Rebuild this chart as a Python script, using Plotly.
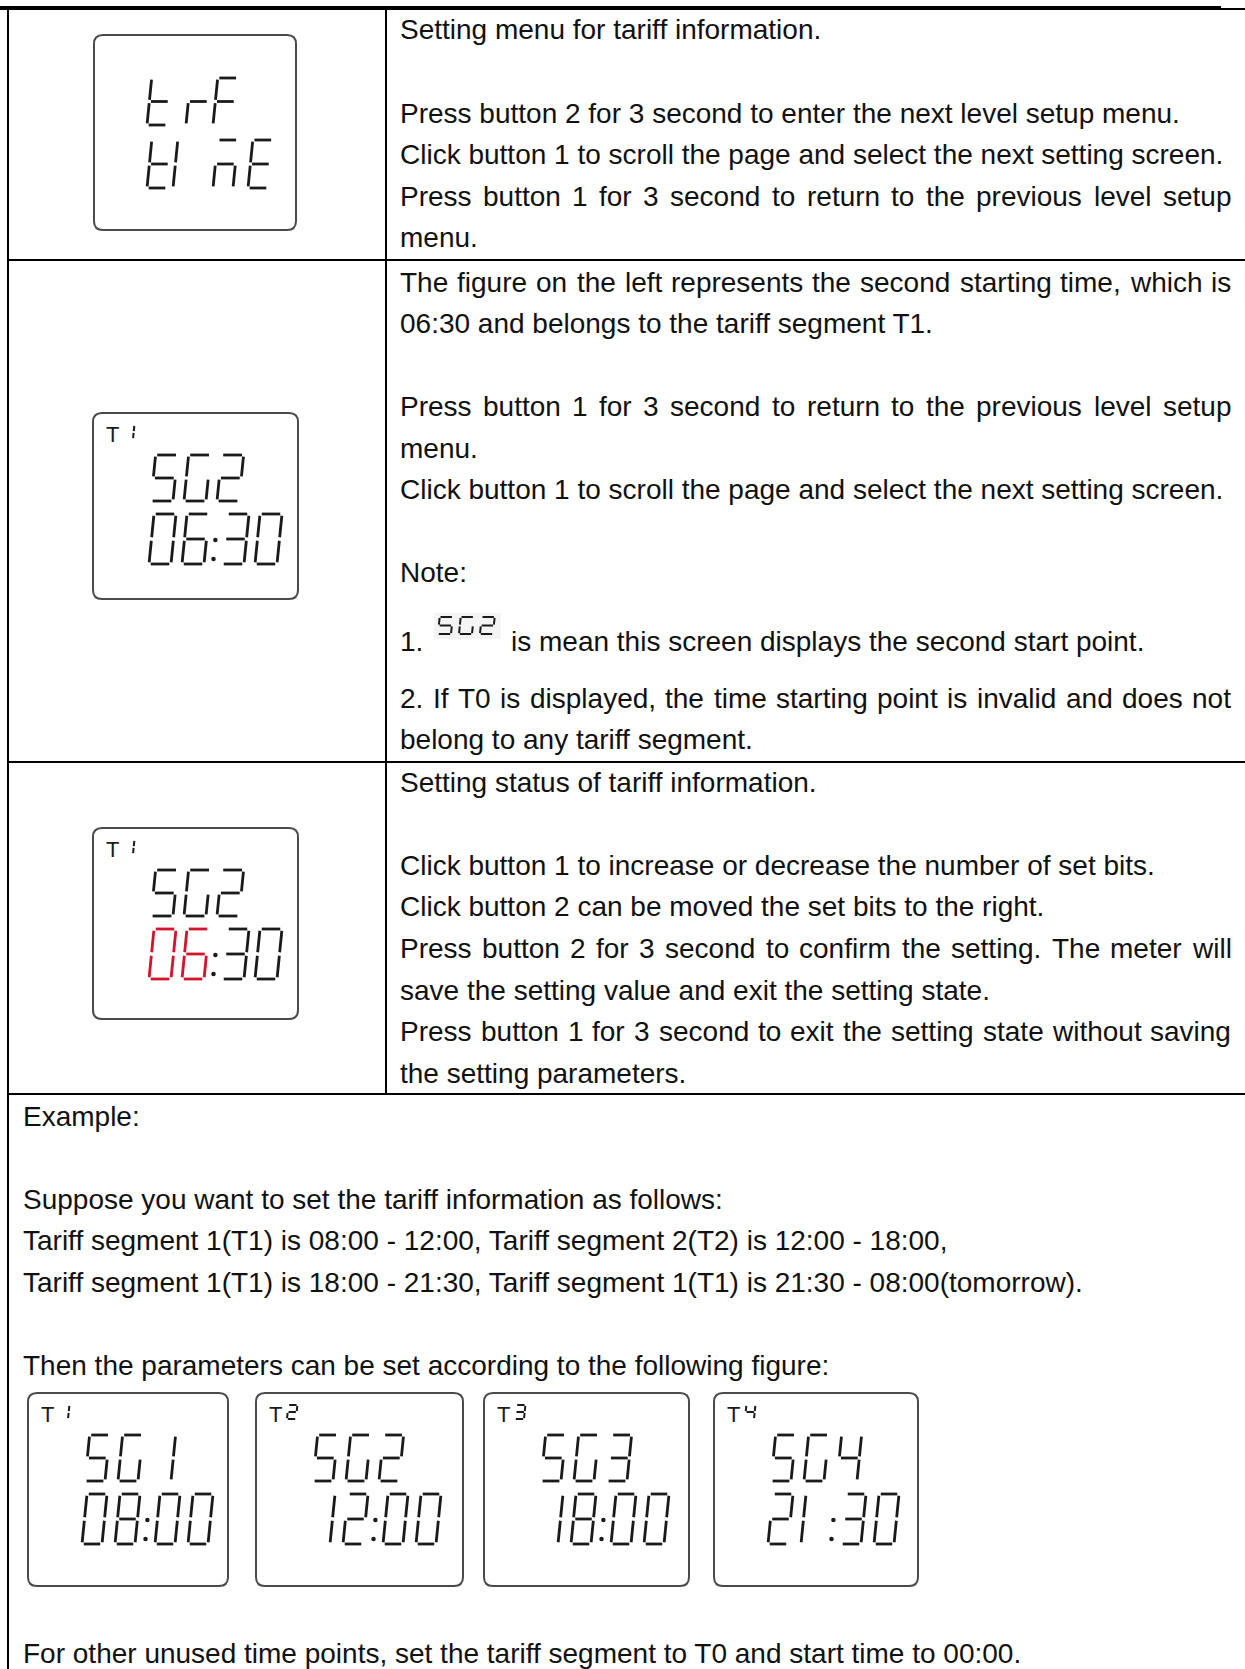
import plotly.graph_objects as go

# ------------------------------------------------------------------ content
ROW1_LINES = [
    "Setting menu for tariff information.",
    "",
    "Press button 2 for 3 second to enter the next level setup menu.",
    "Click button 1 to scroll the page and select the next setting screen.",
    "Press button 1 for 3 second to return to the previous level setup",
    "menu.",
]
ROW2_LINES = [
    "The figure on the left represents the second starting time, which is",
    "06:30 and belongs to the tariff segment T1.",
    "",
    "Press button 1 for 3 second to return to the previous level setup",
    "menu.",
    "Click button 1 to scroll the page and select the next setting screen.",
    "",
    "Note:",
]
NOTE1_PREFIX = "1."
NOTE1_ICON = "SG2"
NOTE1_TEXT = "is mean this screen displays the second start point."
ROW2_TAIL = [
    "2. If T0 is displayed, the time starting point is invalid and does not",
    "belong to any tariff segment.",
]
ROW3_LINES = [
    "Setting status of tariff information.",
    "",
    "Click button 1 to increase or decrease the number of set bits.",
    "Click button 2 can be moved the set bits to the right.",
    "Press button 2 for 3 second to confirm the setting. The meter will",
    "save the setting value and exit the setting state.",
    "Press button 1 for 3 second to exit the setting state without saving",
    "the setting parameters.",
]
EXAMPLE_LINES = [
    "Example:",
    "",
    "Suppose you want to set the tariff information as follows:",
    "Tariff segment 1(T1) is 08:00 - 12:00, Tariff segment 2(T2) is 12:00 - 18:00,",
    "Tariff segment 1(T1) is 18:00 - 21:30, Tariff segment 1(T1) is 21:30 - 08:00(tomorrow).",
    "",
    "Then the parameters can be set according to the following figure:",
]
FOOTER_LINE = "For other unused time points, set the tariff segment to T0 and start time to 00:00."

# LCD screen contents
MENU_SCREEN = [["t", "r", "F"], ["t", "I", "m", "E"]]
SCREEN_TARIFF = "1"
SCREEN_SEGMENT = "SG2"
SCREEN_TIME = "06:30"
EDIT_DIGITS = [0, 1]          # characters of the time blinking (red) in edit state
EXAMPLE_TARIFFS = ["1", "2", "3", "4"]
EXAMPLE_SEGMENTS = ["SG1", "SG2", "SG3", "SG4"]
EXAMPLE_TIMES = ["08:00", "12:00", "18:00", "21:30"]

# ------------------------------------------------------------------ style
PAGE_W, PAGE_H = 1245, 1669
FONT = "Liberation Sans, Arial, sans-serif"
FS = 28
TXT = "#111111"
INK = "#1a1a1a"
RED = "#d0162c"
BOX_LINE = "#4a4a4a"
STROKE = 2.8
JUSTIFIED = {
    "Press button 1 for 3 second to return to the previous level setup",
    "The figure on the left represents the second starting time, which is",
    "2. If T0 is displayed, the time starting point is invalid and does not",
    "Press button 2 for 3 second to confirm the setting. The meter will",
    "Press button 1 for 3 second to exit the setting state without saving",
}
RIGHT_EDGE = 1229

ARIAL = {
    " ": 278, "!": 278, "(": 333, ")": 333, ",": 278, "-": 333, ".": 278, ":": 278,
    "0": 556, "1": 556, "2": 556, "3": 556, "4": 556, "5": 556, "6": 556, "7": 556,
    "8": 556, "9": 556, "A": 667, "B": 667, "C": 722, "D": 722, "E": 667, "F": 611,
    "G": 778, "H": 722, "I": 278, "J": 500, "K": 667, "L": 556, "M": 833, "N": 722,
    "O": 778, "P": 667, "Q": 778, "R": 722, "S": 667, "T": 611, "U": 722, "V": 667,
    "W": 944, "X": 667, "Y": 667, "Z": 611, "a": 556, "b": 556, "c": 500, "d": 556,
    "e": 556, "f": 278, "g": 556, "h": 556, "i": 222, "j": 222, "k": 500, "l": 222,
    "m": 833, "n": 556, "o": 556, "p": 556, "q": 556, "r": 333, "s": 500, "t": 278,
    "u": 556, "v": 500, "w": 722, "x": 500, "y": 500, "z": 500,
}


def tw(s, size=FS):
    return sum(ARIAL.get(c, 556) for c in s) * size / 1000.0


annotations = []
shapes = []


def add_text(s, x, y, size=FS, color=TXT, justify=False):
    if not s:
        return
    font = dict(family=FONT, size=size, color=color)
    if not justify:
        annotations.append(dict(x=x, y=y, text=s, xref="x", yref="y", xanchor="left",
                                yanchor="middle", showarrow=False, font=font))
        return
    words = s.split(" ")
    total = sum(tw(w, size) for w in words)
    gap = (RIGHT_EDGE - x - total) / (len(words) - 1)
    cx = x
    for w in words:
        annotations.append(dict(x=cx, y=y, text=w, xref="x", yref="y", xanchor="left",
                                yanchor="middle", showarrow=False, font=font))
        cx += tw(w, size) + gap


def add_lines(lines, x, y0, pitch=41.6):
    for i, s in enumerate(lines):
        add_text(s, x, y0 + i * pitch, justify=(s in JUSTIFIED))


# ------------------------------------------------------------------ seven segment
SEGMENTS = {
    "0": "abcdef", "1": "bc", "2": "abdeg", "3": "abcdg", "4": "bcfg", "5": "acdfg",
    "6": "acdefg", "7": "abc", "8": "abcdefg", "9": "abcdfg",
    "S": "acdfg", "G": "acdef", "t": "defg", "r": "eg", "F": "aefg",
    "I": "ef", "m": "aceg", "E": "adefg", " ": "",
}
seg_groups = {}
dot_groups = {}


def glyph(x, top, w, h, code, color=INK, width=STROKE, slant=0.1):
    g = max(0.8, 0.035 * h)
    yb = top + h

    def P(u, v):
        return (x + u + slant * v, yb - v)

    defs = {
        "a": ((g, h), (w - g, h)),
        "b": ((w, h - g), (w, h / 2 + g)),
        "c": ((w, h / 2 - g), (w, g)),
        "d": ((g, 0), (w - g, 0)),
        "e": ((0, g), (0, h / 2 - g)),
        "f": ((0, h / 2 + g), (0, h - g)),
        "g": ((g, h / 2), (w - g, h / 2)),
    }
    xs, ys = seg_groups.setdefault((color, width), ([], []))
    for s in code:
        (u0, v0), (u1, v1) = defs[s]
        p0, p1 = P(u0, v0), P(u1, v1)
        xs += [p0[0], p1[0], None]
        ys += [p0[1], p1[1], None]


def colon(cx, top, h, color=INK, size=4.5, slant=0.1):
    xs, ys = dot_groups.setdefault((color, size), ([], []))
    yb = top + h
    for v in (0.1 * h, 0.48 * h):
        xs.append(cx + slant * v)
        ys.append(yb - v)


def draw_string(tokens, x, top, w, h, pitch, colon_gap=7, colors=None, overrides=None,
                width=STROKE, offsets=None):
    cx = x
    for i, ch in enumerate(tokens):
        col = colors[i] if colors else INK
        if ch == ":":
            colon((2 * cx - pitch + w + colon_gap) / 2, top, h, col)
            cx += colon_gap
            continue
        code = (overrides or {}).get(i, SEGMENTS[ch])
        gx = x + offsets[i] if offsets else cx
        glyph(gx, top, w, h, code, col, width)
        cx += pitch


def rrect(x0, y0, x1, y1, r=9):
    return (f"M{x0 + r},{y0} L{x1 - r},{y0} Q{x1},{y0} {x1},{y0 + r} L{x1},{y1 - r} "
            f"Q{x1},{y1} {x1 - r},{y1} L{x0 + r},{y1} Q{x0},{y1} {x0},{y1 - r} "
            f"L{x0},{y0 + r} Q{x0},{y0} {x0 + r},{y0} Z")


def lcd_box(x0, y0, w, h):
    shapes.append(dict(type="path", path=rrect(x0, y0, x0 + w, y0 + h), xref="x", yref="y",
                       line=dict(color=BOX_LINE, width=2), fillcolor="rgba(0,0,0,0)",
                       layer="below"))


def tariff_screen(x0, y0, w, h, tariff, segment, time, time_colors=None, overrides=None,
                  seg_dx=58, time_dx=56, gw=22):
    lcd_box(x0, y0, w, h)
    annotations.append(dict(x=x0 + 11, y=y0 + 21, text="T", xref="x", yref="y",
                            xanchor="left", yanchor="middle", showarrow=False,
                            font=dict(family=FONT, size=22, color=INK)))
    glyph(x0 + 31, y0 + 12, 9, 14, SEGMENTS[tariff], INK, 2)
    draw_string(list(segment), x0 + seg_dx, y0 + 42, gw, 46, 33)
    draw_string(list(time), x0 + time_dx, y0 + 101, gw, 50, 33, colon_gap=7,
                colors=time_colors, overrides=overrides)


# ------------------------------------------------------------------ table grid
def hline(x0, x1, y, width=2, color="#000"):
    shapes.append(dict(type="line", x0=x0, x1=x1, y0=y, y1=y, xref="x", yref="y",
                       line=dict(color=color, width=width)))


def vline(x, y0, y1, width=2, color="#000"):
    shapes.append(dict(type="line", x0=x, x1=x, y0=y0, y1=y1, xref="x", yref="y",
                       line=dict(color=color, width=width)))


hline(0, 1221, 8, width=4)
hline(1221, 1245, 9, width=2)
vline(8, 8, PAGE_H)
vline(386, 8, 1094)
for yy in (260, 762, 1094):
    hline(8, 1245, yy)

# ------------------------------------------------------------------ text
TX = 398
add_lines(ROW1_LINES, TX, 29.8)
add_lines(ROW2_LINES, TX, 282, pitch=41.5)
add_text(NOTE1_PREFIX, TX, 641)
shapes.append(dict(type="rect", x0=434, x1=501, y0=613, y1=639, xref="x", yref="y",
                   line=dict(width=0), fillcolor="#f4f4f4", layer="below"))
draw_string(list(NOTE1_ICON), 438, 617, 13, 17, 21, width=2)
add_text(NOTE1_TEXT, 509, 641)
add_text(ROW2_TAIL[0], TX, 698, justify=ROW2_TAIL[0] in JUSTIFIED)
add_text(ROW2_TAIL[1], TX, 739.6)
add_lines(ROW3_LINES, TX, 782)
add_lines(EXAMPLE_LINES, 21, 1116)
add_text(FOOTER_LINE, 21, 1653)

# ------------------------------------------------------------------ LCD screens
lcd_box(94, 35, 202, 195)
MENU_OFFSETS = [[0, 39, 66], [0, 26, 66, 101]]
for row, top, hh, offs in zip(MENU_SCREEN, (78, 140), (47, 48), MENU_OFFSETS):
    draw_string(row, 147, top, 20, hh, 33, offsets=offs)

tariff_screen(93, 413, 205, 186, SCREEN_TARIFF, SCREEN_SEGMENT, SCREEN_TIME)
edit_cols = [RED if i in EDIT_DIGITS else INK for i in range(len(SCREEN_TIME))]
tariff_screen(93, 828, 205, 191, SCREEN_TARIFF, SCREEN_SEGMENT, SCREEN_TIME,
              time_colors=edit_cols)

EX_X = [28, 256, 484, 714]
EX_W = [200, 207, 205, 204]
for i in range(len(EXAMPLE_TIMES)):
    ov = {1: "ef"} if EXAMPLE_TIMES[i] == "21:30" else None
    tariff_screen(EX_X[i], 1393, EX_W[i], 193, EXAMPLE_TARIFFS[i], EXAMPLE_SEGMENTS[i],
                  EXAMPLE_TIMES[i], overrides=ov, seg_dx=57, time_dx=54, gw=20)

# ------------------------------------------------------------------ figure
fig = go.Figure()
for (color, width), (xs, ys) in seg_groups.items():
    fig.add_trace(go.Scatter(x=xs, y=ys, mode="lines", hoverinfo="skip",
                             line=dict(color=color, width=width), showlegend=False))
for (color, size), (xs, ys) in dot_groups.items():
    fig.add_trace(go.Scatter(x=xs, y=ys, mode="markers", hoverinfo="skip",
                             marker=dict(color=color, size=size), showlegend=False))

fig.update_layout(
    width=PAGE_W, height=PAGE_H, autosize=False,
    margin=dict(l=0, r=0, t=0, b=0),
    paper_bgcolor="white", plot_bgcolor="white",
    xaxis=dict(range=[0, PAGE_W], visible=False, fixedrange=True),
    yaxis=dict(range=[PAGE_H, 0], visible=False, fixedrange=True),
    shapes=shapes, annotations=annotations, showlegend=False,
)
fig.write_html("out.html", config={"displayModeBar": False, "staticPlot": True},
               post_script="document.body.style.margin='0';document.body.style.overflow='hidden';")
